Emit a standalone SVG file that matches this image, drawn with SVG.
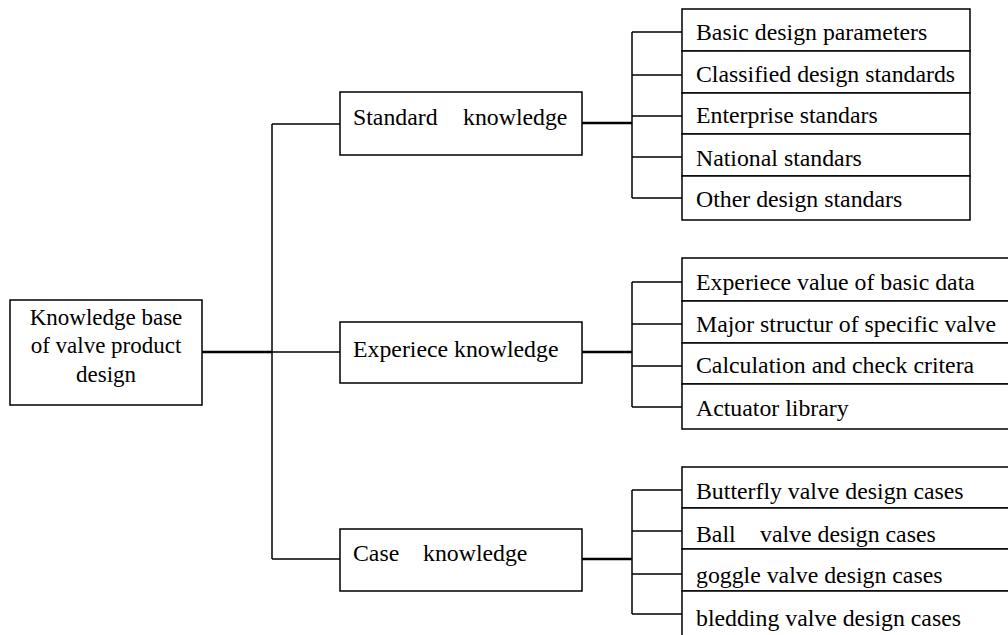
<svg xmlns="http://www.w3.org/2000/svg" width="1008" height="635" viewBox="0 0 1008 635">
<style>
.box{fill:#fff;stroke:#000;stroke-width:1.5}
.ln{fill:none;stroke:#000;stroke-width:1.5}
.thk{fill:none;stroke:#000;stroke-width:2.5}
text{font-family:"Liberation Serif","Times New Roman",serif;font-size:23.8px;fill:#000}
.r{font-size:23px}
</style>
<rect width="1008" height="635" fill="#fff"/>
<g id="connectors">
<path class="thk" d="M202 352H272"/>
<path class="ln" d="M272 352H340M272 124V559M272 124H340M272 559H340"/>
<path class="thk" d="M582 123H632M582 352H632M582 559H632"/>
<path class="ln" d="M632 32V198M632 32H682M632 75H682M632 116H682M632 157H682M632 198H682"/>
<path class="ln" d="M632 282V407M632 282H682M632 324H682M632 366H682M632 407H682"/>
<path class="ln" d="M632 490V614M632 490H682M632 531H682M632 574H682M632 614H682"/>
</g>
<g id="root">
<rect class="box" x="10" y="300" width="192" height="105"/>
<text class="r" x="106" y="325" text-anchor="middle">Knowledge base</text>
<text class="r" x="106" y="353" text-anchor="middle">of valve product</text>
<text class="r" x="106" y="382" text-anchor="middle">design</text>
</g>
<g id="standard">
<rect class="box" x="340" y="92" width="242" height="63"/>
<text x="353" y="125">Standard</text><text x="463" y="125">knowledge</text>
</g>
<g id="experience">
<rect class="box" x="340" y="322" width="242" height="61"/>
<text x="353" y="357">Experiece knowledge</text>
</g>
<g id="case">
<rect class="box" x="340" y="529" width="242" height="62"/>
<text x="353" y="561">Case</text><text x="423" y="561">knowledge</text>
</g>
<g id="std-items">
<rect class="box" x="682" y="9" width="288" height="42"/>
<text x="696" y="40">Basic design parameters</text>
<rect class="box" x="682" y="51" width="288" height="42"/>
<text x="696" y="82">Classified design standards</text>
<rect class="box" x="682" y="93" width="288" height="41"/>
<text x="696" y="123">Enterprise standars</text>
<rect class="box" x="682" y="134" width="288" height="42"/>
<text x="696" y="166">National standars</text>
<rect class="box" x="682" y="176" width="288" height="44"/>
<text x="696" y="207">Other design standars</text>
</g>
<g id="exp-items">
<rect class="box" x="682" y="258" width="340" height="43"/>
<text x="696" y="290">Experiece value of basic data</text>
<rect class="box" x="682" y="301" width="340" height="42"/>
<text x="696" y="332">Major structur of specific valve</text>
<rect class="box" x="682" y="343" width="340" height="41"/>
<text x="696" y="373">Calculation and check critera</text>
<rect class="box" x="682" y="384" width="340" height="45"/>
<text x="696" y="416">Actuator library</text>
</g>
<g id="case-items">
<rect class="box" x="682" y="467" width="340" height="41"/>
<text x="696" y="499">Butterfly valve design cases</text>
<rect class="box" x="682" y="508" width="340" height="41"/>
<text x="696" y="542">Ball</text><text x="760" y="542">valve design cases</text>
<rect class="box" x="682" y="549" width="340" height="42"/>
<text x="696" y="583">goggle valve design cases</text>
<rect class="box" x="682" y="591" width="340" height="60"/>
<text x="696" y="626">bledding valve design cases</text>
</g>
</svg>
